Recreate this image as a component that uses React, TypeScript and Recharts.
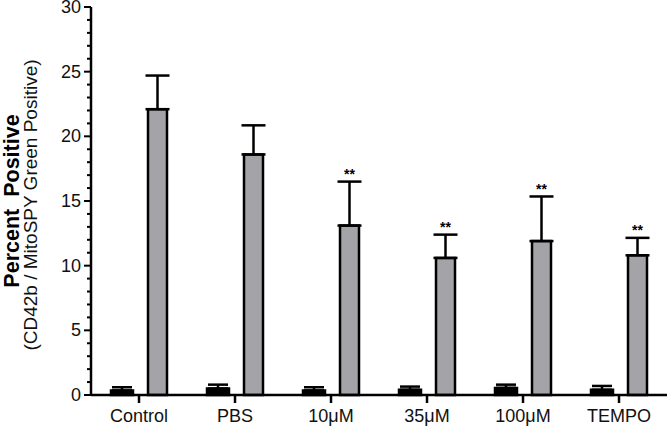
import React from 'react';
import { BarChart, Bar, XAxis, YAxis, ErrorBar, LabelList } from 'recharts';

const categories = ['Control', 'PBS', '10μM', '35μM', '100μM', 'TEMPO'];
const blackMeans = [0.35, 0.5, 0.35, 0.4, 0.55, 0.4];
const blackErrs = [0.25, 0.3, 0.25, 0.25, 0.25, 0.3];
const grayMeans = [22.1, 18.6, 13.1, 10.6, 11.9, 10.8];
const grayErrs = [2.6, 2.25, 3.4, 1.8, 3.45, 1.35];
const significance = ['', '', '**', '**', '**', '**'];
const yTicks = Array.from({ length: 31 }, (_, i) => i);

const data = categories.map((c, i) => ({
  name: c,
  black: blackMeans[i],
  blackErr: [0, blackErrs[i]],
  gray: grayMeans[i],
  grayErr: [0, grayErrs[i]],
}));

const FONT = '"Liberation Sans", Arial, Helvetica, sans-serif';

const YTick = (props: any) => {
  const { x, y, payload } = props;
  const v = payload.value;
  const major = v % 5 === 0;
  return (
    <g>
      <line x1={x - (major ? 7 : 4)} x2={x} y1={y} y2={y} stroke="#000" strokeWidth={2} />
      {major && (
        <text x={x - 10} y={y} textAnchor="end" dominantBaseline="central" fontSize={18} fontFamily={FONT} fill="#111">
          {v}
        </text>
      )}
    </g>
  );
};

const XTick = (props: any) => {
  const { x, y, payload } = props;
  return (
    <text x={x} y={y} textAnchor="middle" dy={16.5} fontSize={18} fontFamily={FONT} fill="#111">
      {payload.value}
    </text>
  );
};

const Stars = (props: any) => {
  const { x, y, width, height, value, index } = props;
  const s = significance[index];
  if (!s) return null;
  const ppu = height / value;
  const top = y - grayErrs[index] * ppu;
  return (
    <text x={x + width / 2} y={top - 2.5} textAnchor="middle" fontSize={14} fontWeight="bold" fontFamily={FONT} fill="#000">
      {s}
    </text>
  );
};

const YLabel = () => (
  <g>
    <text
      transform="translate(18.5,201) rotate(-90)"
      textAnchor="middle"
      fontSize={21.5}
      fontWeight="bold"
      fontFamily={FONT}
      fill="#000"
      style={{ whiteSpace: 'pre' }}
    >
      {'Percent  Positive'}
    </text>
    <text transform="translate(37,205) rotate(-90)" textAnchor="middle" fontSize={19} fontFamily={FONT} fill="#111">
      (CD42b / MitoSPY Green Positive)
    </text>
  </g>
);

export default function App() {
  return (
    <div style={{ position: 'absolute', left: 0, top: 0, width: 668, height: 429, background: '#fff' }}>
      <BarChart
        width={668}
        height={429}
        data={data}
        margin={{ top: 7, right: 1, bottom: 4, left: 0 }}
        barGap={15}
      >
        <XAxis
          dataKey="name"
          axisLine={{ stroke: '#000', strokeWidth: 2.5 }}
          tickLine={{ stroke: '#000', strokeWidth: 2.5 }}
          tickSize={8}
          tick={<XTick />}
          height={30}
          interval={0}
        />
        <YAxis
          domain={[0, 30]}
          ticks={yTicks}
          interval={0}
          width={91}
          axisLine={{ stroke: '#000', strokeWidth: 2.5 }}
          tickLine={false}
          tickSize={0}
          tickMargin={0}
          tick={<YTick />}
          label={{ content: <YLabel /> }}
        />
        <Bar dataKey="black" barSize={22} fill="#000" stroke="#000" strokeWidth={2.5} isAnimationActive={false}>
          <ErrorBar dataKey="blackErr" direction="y" width={10} stroke="#000" strokeWidth={2.5} />
        </Bar>
        <Bar dataKey="gray" barSize={19} fill="#a4a3a8" stroke="#000" strokeWidth={2.5} isAnimationActive={false}>
          <ErrorBar dataKey="grayErr" direction="y" width={12} stroke="#000" strokeWidth={2.5} />
          <LabelList dataKey="gray" content={<Stars />} />
        </Bar>
      </BarChart>
    </div>
  );
}
